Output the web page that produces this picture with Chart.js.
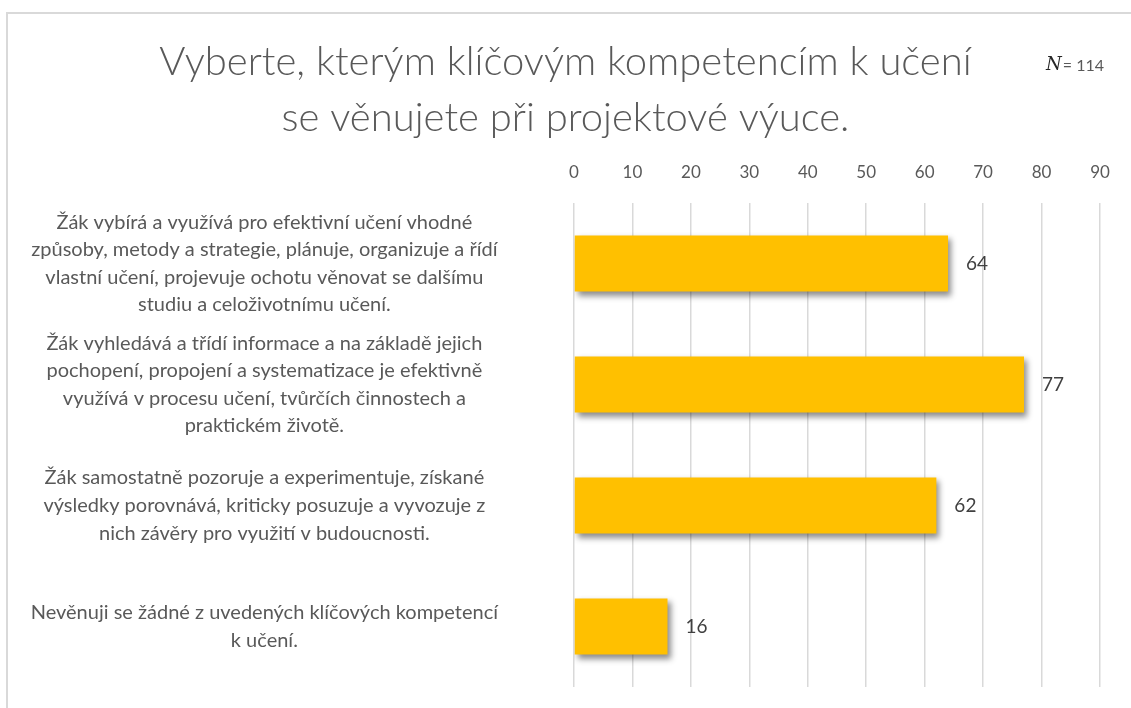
<!DOCTYPE html>
<html lang="cs">
<head>
<meta charset="utf-8">
<title>Klíčové kompetence k učení</title>
<script src="https://cdn.jsdelivr.net/npm/chart.js@4.4.1/dist/chart.umd.min.js"></script>
<style>
  html, body { margin: 0; padding: 0; background: #fff; }
  #wrap { position: relative; width: 1131px; height: 708px; overflow: hidden; }
  #frame { position: absolute; left: 6px; top: 12px; width: 1200px; height: 800px;
           border-top: 2px solid #d9d9d9; border-left: 2px solid #d9d9d9; }
  canvas { position: absolute; left: 0; top: 0; }
</style>
</head>
<body>
<div id="wrap">
  <div id="frame"></div>
  <canvas id="graf" width="1131" height="708"></canvas>
</div>
<script>
// data z grafu
const kategorie = [
  ['Žák vybírá a využívá pro efektivní učení vhodné', 'způsoby, metody a strategie, plánuje, organizuje a řídí', 'vlastní učení, projevuje ochotu věnovat se dalšímu', 'studiu a celoživotnímu učení.'],
  ['Žák vyhledává a třídí informace a na základě jejich', 'pochopení, propojení a systematizace je efektivně', 'využívá v procesu učení, tvůrčích činnostech a', 'praktickém životě.'],
  ['Žák samostatně pozoruje a experimentuje, získané', 'výsledky porovnává, kriticky posuzuje a vyvozuje z', 'nich závěry pro využití v budoucnosti.'],
  ['Nevěnuji se žádné z uvedených klíčových kompetencí', 'k učení.']
];
const pocty = [64, 77, 62, 16];
const osaMin = 0;
const osaMax = 90;
const osaKrok = 10;
const nazev = ['Vyberte, kterým klíčovým kompetencím k učení', 'se věnujete při projektové výuce.'];
const pocetRespondentu = 114;

const pismo = 'Lato, "Liberation Sans", sans-serif';

// stin pod sloupci jako v Excelu
const stin = {
  id: 'stin',
  beforeDatasetsDraw(chart) {
    const c = chart.ctx;
    c.save();
    c.shadowColor = 'rgba(0,0,0,0.45)';
    c.shadowBlur = 6;
    c.shadowOffsetX = 3;
    c.shadowOffsetY = 4;
  },
  afterDatasetsDraw(chart) {
    chart.ctx.restore();
  }
};

// popisky hodnot + N
const popisky = {
  id: 'popisky',
  afterDraw(chart) {
    const c = chart.ctx;
    c.save();
    c.font = '19px ' + pismo;
    c.fillStyle = '#404040';
    c.textAlign = 'left';
    c.textBaseline = 'middle';
    chart.getDatasetMeta(0).data.forEach((bar, i) => {
      c.fillText(String(pocty[i]), bar.x + 18, bar.y);
    });
    // N = 114
    c.font = 'italic 18px "DejaVu Serif", serif';
    c.fillStyle = '#262626';
    c.fillText('N', 1046, 65);
    const w = c.measureText('N').width;
    c.font = '16px ' + pismo;
    c.fillStyle = '#595959';
    c.fillText('= ' + pocetRespondentu, 1046 + w + 1, 66);
    c.restore();
  }
};

const ctx = document.getElementById('graf').getContext('2d');
new Chart(ctx, {
  type: 'bar',
  data: {
    labels: kategorie,
    datasets: [{
      data: pocty,
      backgroundColor: '#FFC000',
      borderWidth: 0,
      barPercentage: 0.463,
      categoryPercentage: 1
    }]
  },
  options: {
    indexAxis: 'y',
    responsive: false,
    animation: false,
    layout: { padding: { left: 0, right: 0, top: 0, bottom: 21 } },
    plugins: {
      legend: { display: false },
      tooltip: { enabled: false },
      title: {
        display: true,
        text: nazev,
        color: '#595959',
        font: { family: pismo, size: 40, weight: '300', lineHeight: 1.4 },
        padding: { top: 34, bottom: 0 }
      }
    },
    scales: {
      x: {
        position: 'top',
        min: osaMin,
        max: osaMax,
        ticks: {
          stepSize: osaKrok,
          color: '#595959',
          font: { family: pismo, size: 17 },
          padding: 20
        },
        grid: { color: '#d9d9d9', lineWidth: 1.5, drawTicks: false },
        border: { display: false },
        afterFit(s) { s.height = 57; }
      },
      y: {
        ticks: {
          autoSkip: false,
          color: '#595959',
          font: { family: pismo, size: 20, lineHeight: 1.38 },
          crossAlign: 'center',
          padding: 76
        },
        grid: { display: false, drawTicks: false },
        border: { display: false },
        afterFit(s) {
          s.width = 574;
          s.paddingTop = 0;
          s.paddingBottom = 0;
        }
      },
      // prazdny pravy okraj, aby byl nadpis centrovany pres celou sirku
      okraj: {
        type: 'category',
        axis: 'y',
        position: 'right',
        ticks: { display: false },
        grid: { display: false, drawTicks: false },
        border: { display: false },
        afterFit(s) {
          s.width = 31;
          s.paddingTop = 0;
          s.paddingBottom = 0;
        }
      }
    }
  },
  plugins: [stin, popisky]
});
</script>
</body>
</html>
